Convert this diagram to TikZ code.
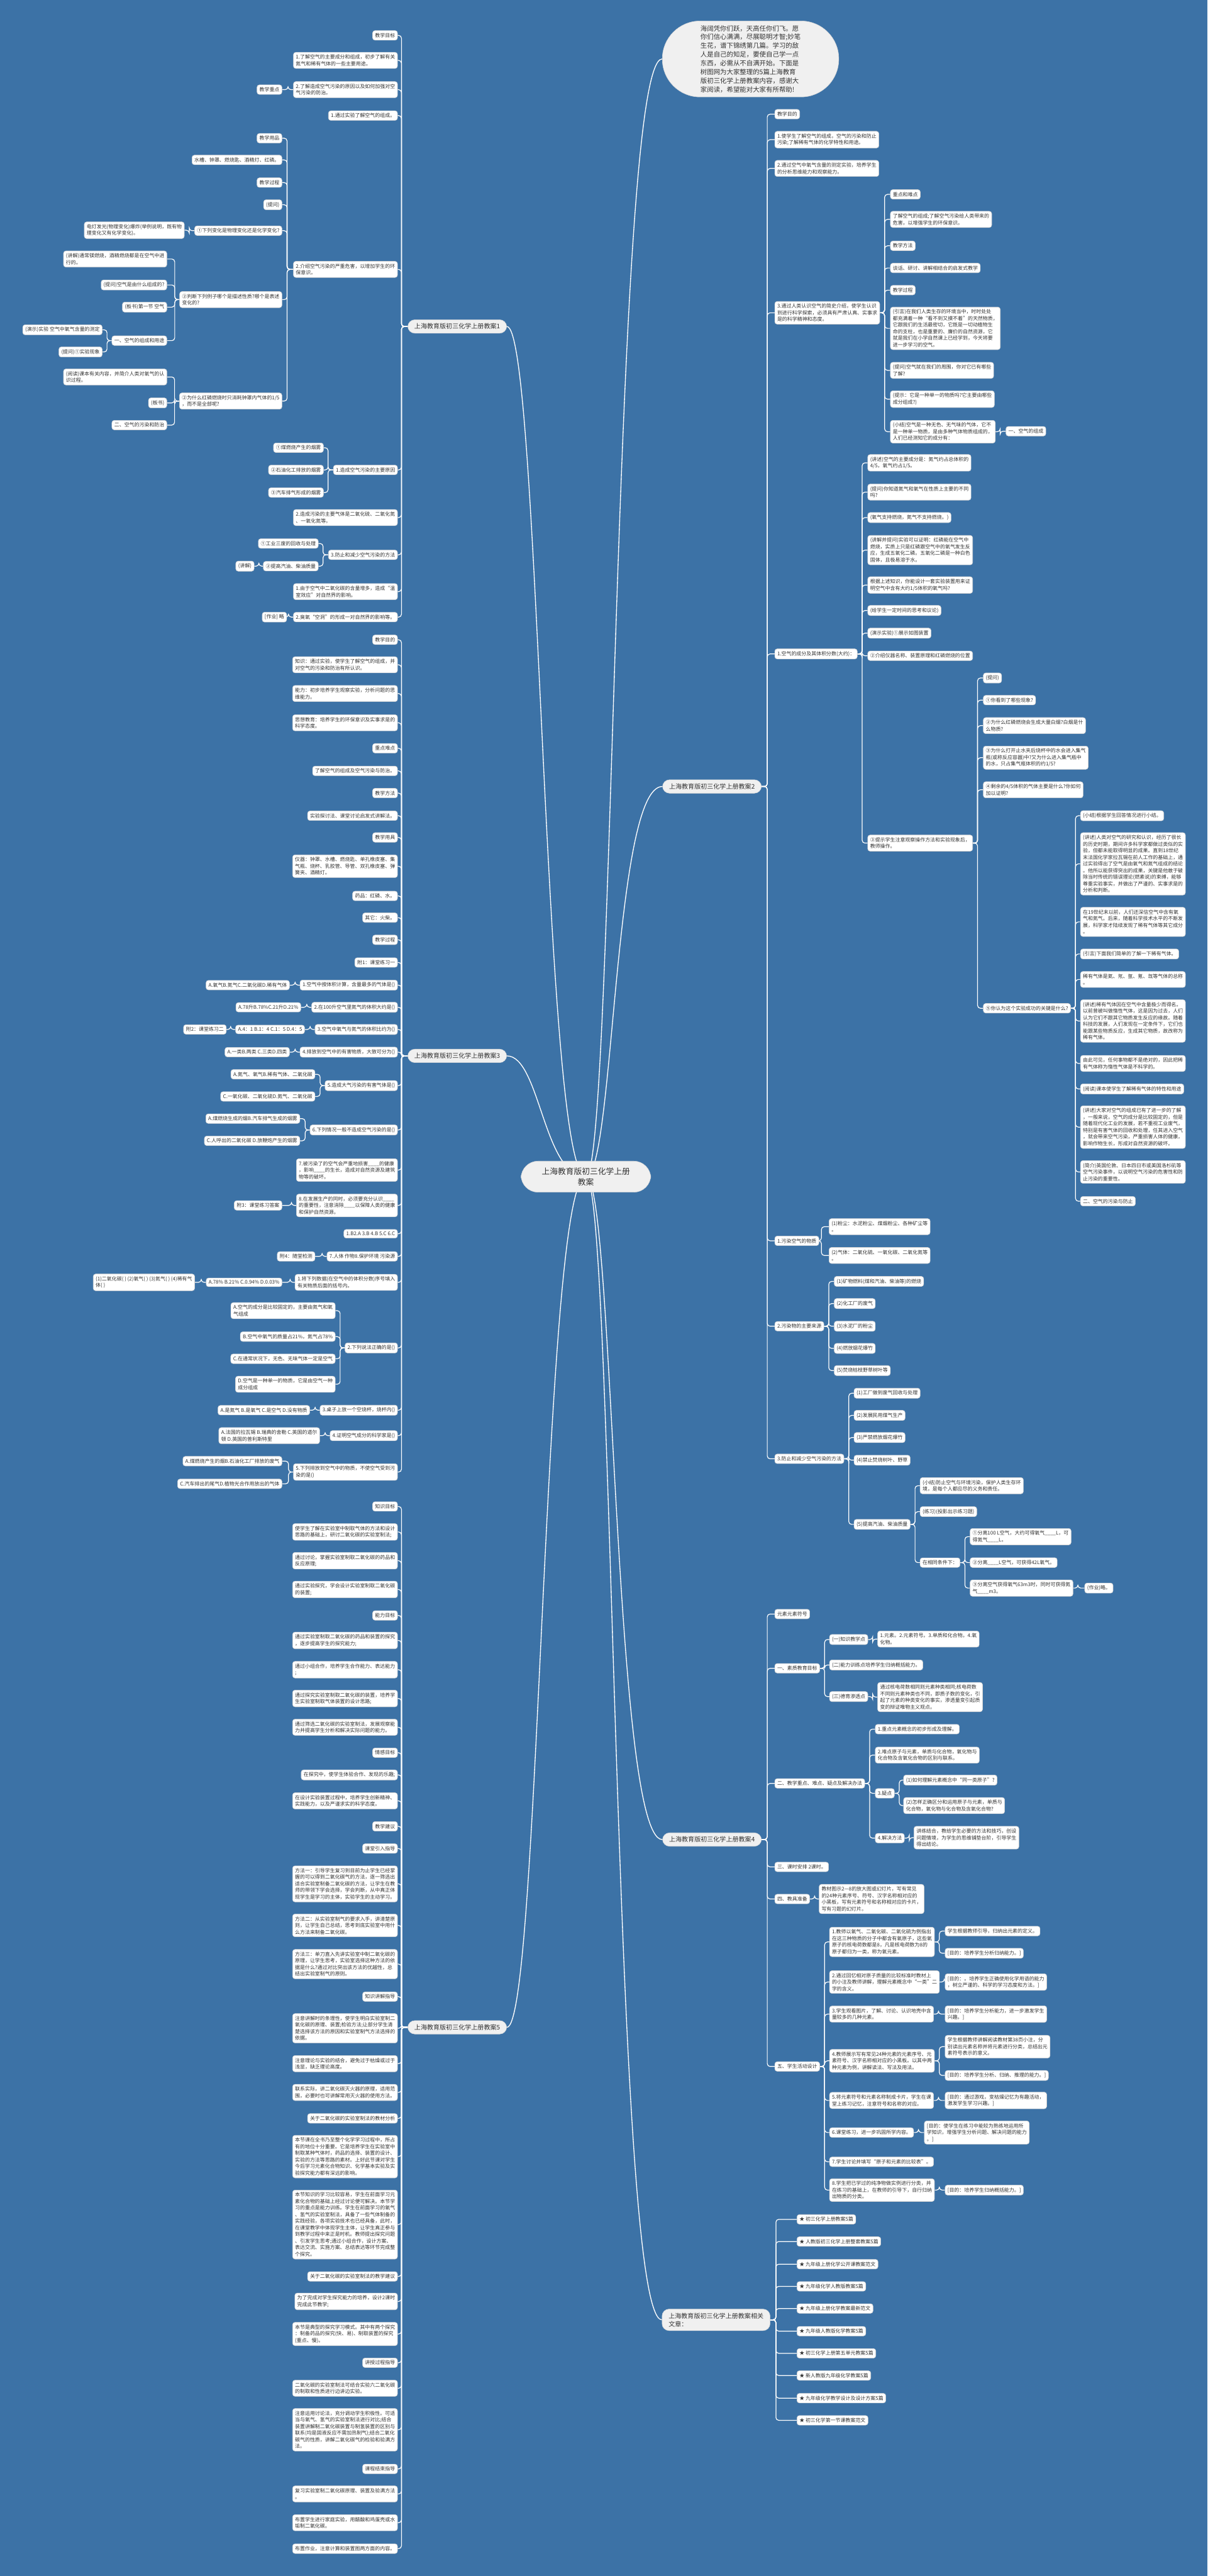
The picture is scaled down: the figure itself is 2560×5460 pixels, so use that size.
\documentclass[tikz,border=0pt]{standalone}
\usepackage{fontspec}
\newfontfamily\cjk{Noto Sans CJK SC}
\usetikzlibrary{backgrounds}
\definecolor{bgblue}{RGB}{60,114,166}
\definecolor{txt}{RGB}{51,51,51}
\definecolor{pale}{RGB}{240,240,240}
\newcommand\leaffont{\cjk\fontsize{5.3}{7}\selectfont}
\newcommand\branchfont{\cjk\fontsize{6.7}{8.6}\selectfont}
\newcommand\rootfont{\cjk\fontsize{8.5}{11}\selectfont}
\newcommand\bubblefont{\cjk\fontsize{6.95}{9.25}\selectfont}
\tikzset{
 leaf/.style={draw=black!18, fill=white, rounded corners=2.5pt, inner xsep=2.6pt, inner ysep=2.6pt, align=left, font=\leaffont, text=txt, line width=0.4pt},
 L/.style={leaf, anchor=east},
 R/.style={leaf, anchor=west},
 branchbox/.style={draw=black!15, fill=pale, rounded corners=7.5pt, inner xsep=7pt, inner ysep=4pt, font=\branchfont, text=txt, align=left},
 conn/.style={draw=white, line width=0.8pt, rounded corners=3pt},
 mainconn/.style={draw=white, line width=0.9pt},
}
\begin{document}
\begin{tikzpicture}[x=0.5pt,y=-0.5pt]
\useasboundingbox (0,0) rectangle (2560,5460);

% ---------- root, intro, branches ----------
\node[draw=black!15, fill=pale, rounded corners=18pt, inner xsep=22pt, inner ysep=7pt, font=\rootfont, text=txt, align=center] (root) at (1242,2494) {上海教育版初三化学上册\\教案};
\node[draw=black!15, fill=pale, rounded corners=40pt, minimum width=187pt, minimum height=80.5pt, font=\bubblefont, text=txt, align=left] (intro) at (1591,125) {海阔凭你们跃，天高任你们飞。愿\\你们信心满满，尽展聪明才智;妙笔\\生花，谱下锦绣第几篇。学习的敌\\人是自己的知足，要使自己学一点\\东西，必需从不自满开始。下面是\\树图网为大家整理的5篇上海教育\\版初三化学上册教案内容，感谢大\\家阅读，希望能对大家有所帮助!};
\node[branchbox, anchor=west] (b1) at (864,692) {上海教育版初三化学上册教案1};
\node[branchbox, anchor=west] (b3) at (864,2238) {上海教育版初三化学上册教案3};
\node[branchbox, anchor=west] (b5) at (864,4297) {上海教育版初三化学上册教案5};
\node[branchbox, anchor=west] (b2) at (1404,1667) {上海教育版初三化学上册教案2};
\node[branchbox, anchor=west] (b4) at (1404,3899) {上海教育版初三化学上册教案4};
\node[branchbox, anchor=west] (b6) at (1403,4917) {上海教育版初三化学上册教案相关\\文章：};

% ---------- branch 1 ----------
\node[L] (a1) at (843,75) {教学目标};
\node[L] (a2) at (843,128) {1.了解空气的主要成分和组成，初步了解有关\\氮气和稀有气体的一些主要用途。};
\node[L] (a3) at (843,190) {2.了解造成空气污染的原因以及如何加强对空\\气污染的防治。};
\node[L] (a3c) at (598,190) {教学重点};
\node[L] (a4) at (843,245) {1.通过实验了解空气的组成。};
\node[L] (a5) at (843,571) {2.介绍空气污染的严重危害，以增加学生的环\\保意识。};
\node[L] (a5a) at (598,293) {教学用品};
\node[L] (a5b) at (598,339) {水槽、钟罩、燃烧匙、酒精灯、红磷。};
\node[L] (a5c) at (598,387) {教学过程};
\node[L] (a5d) at (598,434) {(提问)};
\node[L] (a5e) at (598,489) {①下列变化是物理变化还是化学变化?};
\node[L] (a5e1) at (391,488) {电灯发光(物理变化)爆炸(举例说明，既有物\\理变化又有化学变化)。};
\node[L] (a5f) at (598,635) {②判断下列例子哪个是描述性质?哪个是表述\\变化的?};
\node[L] (a5f1) at (354,549) {(讲解)通常镁燃烧，酒精燃烧都是在空气中进\\行的。};
\node[L] (a5f2) at (354,604) {(提问)空气是由什么组成的?};
\node[L] (a5f3) at (354,651) {(板书)第一节 空气};
\node[L] (a5f4) at (354,722) {一、空气的组成和用途};
\node[L] (a5f4a) at (217,699) {(演示)实验 空气中氧气含量的测定};
\node[L] (a5f4b) at (217,746) {(提问)①实验现象};
\node[L] (a5g) at (598,850) {②为什么红磷燃烧时只消耗钟罩内气体的1/5\\，而不是全部呢?};
\node[L] (a5g1) at (354,799) {(阅读)课本有关内容，并简介人类对氧气的认\\识过程。};
\node[L] (a5g2) at (354,854) {(板书)};
\node[L] (a5g3) at (354,901) {二、空气的污染和防治};
\node[L] (a6) at (843,996) {1.造成空气污染的主要原因};
\node[L] (a6a) at (686,949) {①煤燃烧产生的烟雾};
\node[L] (a6b) at (686,996) {②石油化工排放的烟雾};
\node[L] (a6c) at (686,1044) {③汽车排气形成的烟雾};
\node[L] (a7) at (843,1097) {2.造成污染的主要气体是二氧化硫、二氧化氮\\、一氧化氮等。};
\node[L] (a8) at (843,1176) {3.防止和减少空气污染的方法};
\node[L] (a8a) at (675,1152) {①工业三废的回收与处理};
\node[L] (a8b) at (675,1200) {②提高汽油、柴油质量};
\node[L] (a8b1) at (539,1200) {(讲解)};
\node[L] (a9) at (843,1254) {1.由于空气中二氧化碳的含量增多，造成“温\\室效应”对自然界的影响。};
\node[L] (a10) at (843,1308) {2.臭氧“空洞”的形成一对自然界的影响等。};
\node[L] (a10a) at (608,1308) {[作业] 略};

% ---------- branch 3 ----------
\node[L] (c1) at (843,1356) {教学目的};
\node[L] (c2) at (843,1409) {知识：通过实验，使学生了解空气的组成，并\\对空气的污染和防治有所认识。};
\node[L] (c3) at (843,1470) {能力：初步培养学生观察实验，分析问题的思\\维能力。};
\node[L] (c4) at (843,1532) {思想教育：培养学生的环保意识及实事求是的\\科学态度。};
\node[L] (c5) at (843,1586) {重点难点};
\node[L] (c6) at (843,1634) {了解空气的组成及空气污染与防治。};
\node[L] (c7) at (843,1681) {教学方法};
\node[L] (c8) at (843,1729) {实验探讨法、课堂讨论启发式讲解法。};
\node[L] (c9) at (843,1775) {教学用具};
\node[L] (c10) at (843,1836) {仪器：钟罩、水槽、燃烧匙、单孔橡皮塞、集\\气瓶、烧杯、乳胶管、导管、双孔橡皮塞、弹\\簧夹、酒精灯。};
\node[L] (c11) at (843,1899) {药品：红磷、水。};
\node[L] (c12) at (843,1945) {其它：火柴。};
\node[L] (c13) at (843,1992) {教学过程};
\node[L] (c14) at (843,2040) {附1：课堂练习一};
\node[L] (c15) at (843,2088) {1.空气中按体积计算，含量最多的气体是()};
\node[L] (c15a) at (614,2088) {A.氧气B.氮气C.二氧化碳D.稀有气体};
\node[L] (c16) at (843,2135) {2.在100升空气里氮气的体积大约是()};
\node[L] (c16a) at (638,2135) {A.78升B.78\%C.21升D.21\%};
\node[L] (c17) at (843,2182) {3.空气中氧气与氮气的体积比约为()};
\node[L] (c17a) at (646,2182) {A.4：1 B.1：4 C.1：5 D.4：5};
\node[L] (c17b) at (480,2182) {附2：课堂练习二};
\node[L] (c18) at (843,2230) {4.排放到空气中的有害物质，大致可分为()};
\node[L] (c18a) at (614,2230) {A.一类B.两类 C.三类D.四类};
\node[L] (c19) at (843,2301) {5.造成大气污染的有害气体是()};
\node[L] (c19a) at (668,2277) {A.氮气、氧气B.稀有气体、二氧化碳};
\node[L] (c19b) at (668,2324) {C.一氧化碳、二氧化硫D.氮气、二氧化碳};
\node[L] (c20) at (843,2395) {6.下列情况一般不造成空气污染的是()};
\node[L] (c20a) at (636,2371) {A.煤燃烧生成的烟B.汽车排气生成的烟雾};
\node[L] (c20b) at (636,2418) {C.人呼出的二氧化碳 D.放鞭炮产生的烟雾};
\node[L] (c21) at (843,2480) {7.被污染了的空气会严重地损害\_\_\_\_的健康\\，影响\_\_\_\_的生长，造成对自然资源及建筑\\物等的破坏。};
\node[L] (c22) at (843,2555) {8.在发展生产的同时，必须要充分认识\_\_\_\_\\的重要性，注意消除\_\_\_\_以保障人类的健康\\和保护自然资源。};
\node[L] (c22a) at (598,2555) {附3：课堂练习答案};
\node[L] (c23) at (843,2615) {1.B2.A 3.B 4.B 5.C 6.C};
\node[L] (c24) at (843,2663) {7.人体 作物8.保护环境 污染源};
\node[L] (c24a) at (668,2663) {附4：随堂检测};
\node[L] (c25) at (843,2718) {1.将下列数据(在空气中的体积分数)序号填入\\有关物质后面的括号内。};
\node[L] (c25a) at (598,2718) {A.78\% B.21\% C.0.94\% D.0.03\%};
\node[L] (c25b) at (413,2718) {(1)二氧化碳( ) (2)氧气( ) (3)氮气( ) (4)稀有气\\体( )};
\node[L] (c26) at (843,2857) {2.下列说法正确的是()};
\node[L] (c26a) at (711,2778) {A.空气的成分是比较固定的，主要由氮气和氧\\气组成};
\node[L] (c26b) at (711,2833) {B.空气中氧气的质量占21\%，氮气占78\%};
\node[L] (c26c) at (711,2880) {C.在通常状况下，无色、无味气体一定是空气};
\node[L] (c26d) at (711,2934) {D.空气是一种单一的物质，它是由空气一种\\成分组成};
\node[L] (c27) at (843,2989) {3.桌子上放一个空烧杯，烧杯内()};
\node[L] (c27a) at (657,2989) {A.是氮气 B.是氧气 C.是空气 D.没有物质};
\node[L] (c28) at (843,3043) {4.证明空气成分的科学家是()};
\node[L] (c28a) at (678,3043) {A.法国的拉瓦锡 B.瑞典的舍勒 C.英国的道尔\\顿 D.英国的普利斯特里};
\node[L] (c29) at (843,3120) {5.下列排放到空气中的物质，不使空气受到污\\染的是()};
\node[L] (c29a) at (598,3097) {A.煤燃烧产生的烟B.石油化工厂排放的废气};
\node[L] (c29b) at (598,3145) {C.汽车排出的尾气D.植物光合作用放出的气体};

% ---------- branch 5 ----------
\node[L] (e1) at (843,3193) {知识目标};
\node[L] (e2) at (843,3247) {使学生了解在实验室中制取气体的方法和设计\\思路的基础上，研讨二氧化碳的实验室制法;};
\node[L] (e3) at (843,3308) {通过讨论，掌握实验室制取二氧化碳的药品和\\反应原理;};
\node[L] (e4) at (843,3369) {通过实验探究，学会设计实验室制取二氧化碳\\的装置;};
\node[L] (e5) at (843,3424) {能力目标};
\node[L] (e6) at (843,3477) {通过实验室制取二氧化碳的药品和装置的探究\\，逐步提高学生的探究能力;};
\node[L] (e7) at (843,3539) {通过小组合作，培养学生合作能力、表达能力\\;};
\node[L] (e8) at (843,3600) {通过探究实验室制取二氧化碳的装置，培养学\\生实验室制取气体装置的设计思路;};
\node[L] (e9) at (843,3661) {通过筛选二氧化碳的实验室制法，发展观察能\\力并提高学生分析和解决实际问题的能力。};
\node[L] (e10) at (843,3715) {情感目标};
\node[L] (e11) at (843,3762) {在探究中，使学生体验合作、发现的乐趣;};
\node[L] (e12) at (843,3817) {在设计实验装置过程中，培养学生创新精神、\\实践能力，以及严谨求实的科学态度。};
\node[L] (e13) at (843,3871) {教学建议};
\node[L] (e14) at (843,3918) {课堂引入指导};
\node[L] (e15) at (843,3993) {方法一：引导学生复习到目前为止学生已经掌\\握的可以得到二氧化碳气的方法，逐一筛选出\\适合实验室制备二氧化碳的方法，让学生在教\\师的带领下学会选择，学会判断，从中真正体\\现学生是学习的主体，实验学生的主动学习。};
\node[L] (e16) at (843,4081) {方法二：从实验室制气的要求入手，讲清楚原\\则，让学生自己总结，思考到底实验室中用什\\么方法来制备二氧化碳。};
\node[L] (e17) at (843,4163) {方法三：单刀直入先讲实验室中制二氧化碳的\\原理，让学生思考，实验室选择这种方法的依\\据是什么?通过对比突出该方法的优越性，总\\结出实验室制气的原则。};
\node[L] (e18) at (843,4232) {知识讲解指导};
\node[L] (e19) at (843,4299) {注意讲解时的条理性，使学生明白实验室制二\\氧化碳的原理、装置;检验方法;让部分学生清\\楚选择该方法的原因和实验室制气方法选择的\\依据。};
\node[L] (e20) at (843,4374) {注意理论与实验的结合，避免过于枯燥或过于\\浅显，缺乏理论高度。};
\node[L] (e21) at (843,4435) {联系实际，讲二氧化碳灭火器的原理，适用范\\围，必要时也可讲解常用灭火器的使用方法。};
\node[L] (e22) at (843,4490) {关于二氧化碳的实验室制法的教材分析};
\node[L] (e23) at (843,4571) {本节课在全书乃至整个化学学习过程中，所占\\有的地位十分重要。它是培养学生在实验室中\\制取某种气体时，药品的选择、装置的设计、\\实验的方法等思路的素材。上好此节课对学生\\今后学习元素化合物知识、化学基本实验及实\\验探究能力都有深远的影响。};
\node[L] (e24) at (843,4715) {本节知识的学习比较容易，学生在前面学习元\\素化合物的基础上经过讨论便可解决。本节学\\习的重点是能力训练。学生在前面学习的氧气\\、氢气的实验室制法，具备了一些气体制备的\\实践经验，各项实验技术也已经具备，此时，\\在课堂教学中体现学生主体，让学生真正参与\\到教学过程中来正是时机。教师提出探究问题\\、引发学生思考;通过小组合作，设计方案、\\表达交流、实施方案、总结表达等环节完成整\\个探究。};
\node[L] (e25) at (843,4825) {关于二氧化碳的实验室制法的教学建议};
\node[L] (e26) at (843,4878) {为了完成对学生探究能力的培养，设计2课时\\完成此节教学;};
\node[L] (e27) at (843,4947) {本节是典型的探究学习模式。其中有两个探究\\：制备药品的探究(快、易)、制取装置的探究\\(重点、慢)。};
\node[L] (e28) at (843,5008) {讲授过程指导};
\node[L] (e29) at (843,5062) {二氧化碳的实验室制法可结合实验六二氧化碳\\的制取和性质进行边讲边实验。};
\node[L] (e30) at (843,5150) {注意运用讨论法，充分调动学生积极性。可适\\当与氧气、氢气的实验室制法进行对比;结合\\装置讲解制二氧化碳装置与制氢装置的区别与\\联系(均是固液反应不需加热制气);结合二氧化\\碳气的性质，讲解二氧化碳气的检验和验满方\\法。};
\node[L] (e31) at (843,5233) {课程结束指导};
\node[L] (e32) at (843,5286) {复习实验室制二氧化碳原理、装置及验满方法\\。};
\node[L] (e33) at (843,5347) {布置学生进行家庭实验，用醋酸和鸡蛋壳或水\\垢制二氧化碳。};
\node[L] (e34) at (843,5402) {布置作业，注意计算和装置图两方面的内容。};

% ---------- branch 2 ----------
\node[R] (r1) at (1642,242) {教学目的};
\node[R] (r2) at (1642,296) {1.使学生了解空气的组成，空气的污染和防止\\污染;了解稀有气体的化学特性和用途。};
\node[R] (r3) at (1642,357) {2.通过空气中氧气含量的测定实验，培养学生\\的分析思维能力和观察能力。};
\node[R] (r4) at (1642,663) {3.通过人类认识空气的简史介绍，使学生认识\\到进行科学探索，必须具有严肃认真、实事求\\是的科学精神和态度。};
\node[R] (r4a) at (1887,412) {重点和难点};
\node[R] (r4b) at (1887,465) {了解空气的组成;了解空气污染给人类带来的\\危害，以增强学生的环保意识。};
\node[R] (r4c) at (1887,521) {教学方法};
\node[R] (r4d) at (1887,568) {谈话、研讨、讲解相结合的启发式教学};
\node[R] (r4e) at (1887,615) {教学过程};
\node[R] (r4f) at (1887,696) {(引言)在我们人类生存的环境当中，时时处处\\都充满着一种“看不到又摸不着”的天然物质，\\它跟我们的生活最密切，它既是一切动植物生\\命的支柱，也是重要的、廉价的自然资源，它\\就是我们在小学自然课上已经学到，今天将要\\进一步学习的空气。};
\node[R] (r4g) at (1887,785) {(提问)空气就在我们的周围，你对它已有哪些\\了解?};
\node[R] (r4h) at (1887,846) {(提示：它是一种单一的物质吗?它主要由哪些\\成分组成?)};
\node[R] (r4i) at (1887,915) {(小结)空气是一种无色、无气味的气体，它不\\是一种单一物质，是由多种气体物质组成的，\\人们已经测知它的成分有：};
\node[R] (r4i1) at (2132,914) {一、空气的组成};
\node[R] (r5) at (1642,1386) {1.空气的成分及其体积分数(大约)：};
\node[R] (r5a) at (1839,981) {(讲述)空气的主要成分是：氮气约占总体积的\\4/5，氧气约占1/5。};
\node[R] (r5b) at (1839,1043) {(提问)你知道氮气和氧气在性质上主要的不同\\吗?};
\node[R] (r5c) at (1839,1097) {(氧气支持燃烧，氮气不支持燃烧。)};
\node[R] (r5d) at (1839,1166) {(讲解并提问)实验可以证明：红磷能在空气中\\燃烧，实质上只是红磷跟空气中的氧气发生反\\应，生成五氧化二磷。五氧化二磷是一种白色\\固体，且极易溶于水。};
\node[R] (r5e) at (1839,1240) {根据上述知识，你能设计一套实验装置用来证\\明空气中含有大约1/5体积的氧气吗?};
\node[R] (r5f) at (1839,1294) {(给学生一定时间的思考和议论)};
\node[R] (r5g) at (1839,1342) {(演示实验)①展示如图装置};
\node[R] (r5h) at (1839,1390) {②介绍仪器名称、装置原理和红磷燃烧的位置};
\node[R] (r5i) at (1839,1787) {③提示学生注意观察操作方法和实验现象后，\\教师操作。};
\node[R] (r5i1) at (2084,1437) {(提问)};
\node[R] (r5i2) at (2084,1484) {①你看到了哪些现象?};
\node[R] (r5i3) at (2084,1538) {②为什么红磷燃烧会生成大量白烟?白烟是什\\么物质?};
\node[R] (r5i4) at (2084,1606) {③为什么打开止水夹后烧杯中的水会进入集气\\瓶(或称反应容器)中?又为什么进入集气瓶中\\的水，只占集气瓶体积的约1/5?};
\node[R] (r5i5) at (2084,1674) {④剩余的4/5体积的气体主要是什么?你如何\\加以证明?};
\node[R] (r5i6) at (2084,2137) {⑤你认为这个实验成功的关键是什么?};
\node[R] (s1) at (2290,1729) {(小结)根据学生回答情况进行小结。};
\node[R] (s2) at (2290,1831) {(讲述)人类对空气的研究和认识，经历了很长\\的历史时期，期间许多科学家都做过类似的实\\验，但都未能取得明显的成果。直到18世纪\\末法国化学家拉瓦锡在前人工作的基础上，通\\过实验得出了空气是由氧气和氮气组成的结论\\。他所以能获得突出的成果，关键是他敢于破\\除当时传统的错误理论(燃素说)的束缚，能够\\尊重实验事实，并做出了严谨的、实事求是的\\分析和判断。};
\node[R] (s3) at (2290,1954) {在19世纪末以前，人们还深信空气中含有氧\\气和氮气。后来，随着科学技术水平的不断发\\展，科学家才陆续发现了稀有气体等其它成分\\。};
\node[R] (s4) at (2290,2022) {(引言)下面我们简单的了解一下稀有气体。};
\node[R] (s5) at (2290,2076) {稀有气体是氦、氖、氩、氪、氙等气体的总称\\。};
\node[R] (s6) at (2290,2164) {(讲述)稀有气体因在空气中含量极少而得名。\\以前曾被叫做惰性气体，这是因为过去，人们\\认为它们不跟其它物质发生反应的缘故。随着\\科技的发展，人们发现在一定条件下，它们也\\能跟某些物质反应，生成其它物质，故改称为\\稀有气体。};
\node[R] (s7) at (2290,2254) {由此可见，任何事物都不是绝对的，因此把稀\\有气体称为惰性气体是不科学的。};
\node[R] (s8) at (2290,2308) {(阅读)课本使学生了解稀有气体的特性和用途};
\node[R] (s9) at (2290,2389) {(讲述)大家对空气的组成已有了进一步的了解\\，一般来说，空气的成分是比较固定的，但是\\随着现代化工业的发展，若不重视工业废气，\\特别是有害气体的回收和处理，任其进入空气\\，就会带来空气污染，严重损害人体的健康，\\影响作物生长，形成对自然资源的破坏。};
\node[R] (s10) at (2290,2484) {(简介)英国伦敦、日本四日市或美国洛杉矶等\\空气污染事件，以说明空气污染的危害性和防\\止污染的重要性。};
\node[R] (s11) at (2290,2546) {二、空气的污染与防止};
\node[R] (r6) at (1642,2630) {1.污染空气的物质};
\node[R] (r6a) at (1757,2600) {(1)粉尘：水泥粉尘、煤烟粉尘、各种矿尘等\\。};
\node[R] (r6b) at (1757,2661) {(2)气体：二氧化硫、一氧化碳、二氧化氮等\\。};
\node[R] (r7) at (1642,2811) {2.污染物的主要来源};
\node[R] (r7a) at (1768,2716) {(1)矿物燃料(煤和汽油、柴油等)的燃烧};
\node[R] (r7b) at (1768,2763) {(2)化工厂的废气};
\node[R] (r7c) at (1768,2811) {(3)水泥厂的粉尘};
\node[R] (r7d) at (1768,2858) {(4)燃放烟花爆竹};
\node[R] (r7e) at (1768,2905) {(5)焚烧枯枝野草树叶等};
\node[R] (r8) at (1642,3092) {3.防止和减少空气污染的方法};
\node[R] (r8a) at (1810,2953) {(1)工厂做到废气回收与处理};
\node[R] (r8b) at (1810,3000) {(2)发展民用煤气生产};
\node[R] (r8c) at (1810,3047) {(3)严禁燃放烟花爆竹};
\node[R] (r8d) at (1810,3095) {(4)禁止焚烧树叶、野草};
\node[R] (r8e) at (1810,3231) {(5)提高汽油、柴油质量};
\node[R] (r8e1) at (1950,3149) {(小结)防止空气与环境污染，保护人类生存环\\境，是每个人都应尽的义务和责任。};
\node[R] (r8e2) at (1950,3204) {(练习)(投影出示练习题)};
\node[R] (r8e3) at (1950,3312) {在相同条件下：};
\node[R] (t1) at (2056,3257) {①分离100 L空气，大约可得氧气\_\_\_\_L，可\\得氮气\_\_\_\_L。};
\node[R] (t2) at (2056,3312) {②分离\_\_\_\_L空气，可获得42L氧气。};
\node[R] (t3) at (2056,3366) {③分离空气获得氧气63m3时，同时可获得氮\\气\_\_\_\_m3。};
\node[R] (t3a) at (2299,3366) {(作业)略。};

% ---------- branch 4 ----------
\node[R] (f1) at (1642,3421) {元素元素符号};
\node[R] (f2) at (1642,3536) {一、素质教育目标};
\node[R] (f2a) at (1758,3475) {(一)知识教学点};
\node[R] (f2a1) at (1860,3474) {1.元素。2.元素符号。3.单质和化合物。4.氧\\化物。};
\node[R] (f2b) at (1758,3529) {(二)能力训练点培养学生归纳概括能力。};
\node[R] (f2c) at (1758,3596) {(三)德育渗透点};
\node[R] (f2c1) at (1860,3597) {通过核电荷数相同则元素种类相同;核电荷数\\不同则元素种类也不同，即质子数的变化，引\\起了元素的种类变化的事实，渗透量变引起质\\变的辩证唯物主义观点。};
\node[R] (f3) at (1642,3780) {二、教学重点、难点、疑点及解决办法};
\node[R] (f3a) at (1855,3665) {1.重点元素概念的初步形成及理解。};
\node[R] (f3b) at (1855,3720) {2.难点原子与元素，单质与化合物，氧化物与\\化合物及含氧化合物的区别与联系。};
\node[R] (f3c) at (1855,3801) {3.疑点};
\node[R] (f3c1) at (1915,3773) {(1)如何理解元素概念中“同一类原子”?};
\node[R] (f3c2) at (1915,3827) {(2)怎样正确区分和运用原子与元素，单质与\\化合物，氧化物与化合物及含氧化合物?};
\node[R] (f3d) at (1855,3896) {4.解决方法};
\node[R] (f3d1) at (1937,3895) {讲练结合，教给学生必要的方法和技巧，创设\\问题情境，为学生的思维铺垫台阶，引导学生\\得出结论。};
\node[R] (f4) at (1642,3957) {三、课时安排 2课时。};
\node[R] (f5) at (1642,4025) {四、教具准备};
\node[R] (f5a) at (1736,4025) {教材图示2—8的放大图或幻灯片，写有常见\\的24种元素序号、符号、汉字名称相对应的\\小黑板，写有元素符号和名称相对应的卡片，\\写有习题的幻灯片。};
\node[R] (f6) at (1642,4380) {五、学生活动设计};
\node[R] (g1) at (1758,4116) {1.教师以氧气、二氧化碳、二氧化硫为例指出\\在这三种物质的分子中都含有氧原子，这些氧\\原子的核电荷数都是8，凡是核电荷数为8的\\原子都归为一类，称为氧元素。};
\node[R] (g1a) at (2003,4093) {学生根据教师引导，归纳出元素的定义。};
\node[R] (g1b) at (2003,4140) {[目的：培养学生分析归纳能力。]};
\node[R] (g2) at (1758,4201) {2.通过回忆相对原子质量的比较标准时教材上\\的小注及教师讲解，理解元素概念中“一类”二\\字的含义。};
\node[R] (g2a) at (2003,4201) {[目的：。培养学生正确使用化学用语的能力\\，树立严谨的、科学的学习态度和方法。]};
\node[R] (g3) at (1758,4269) {3.学生观看图片，了解、讨论、认识地壳中含\\量较多的几种元素。};
\node[R] (g3a) at (2003,4269) {[目的：培养学生分析能力，进一步激发学生\\兴趣。]};
\node[R] (g4) at (1758,4368) {4.教师展示写有常见24种元素的元素序号、元\\素符号、汉字名称相对应的小黑板。以其中两\\种元素为例，讲解读法、写法及用法。};
\node[R] (g4a) at (2003,4338) {学生根据教师讲解阅读教材第38页小注，分\\别读出元素名称并将元素进行分类，总结出元\\素符号表示的意义。};
\node[R] (g4b) at (2003,4399) {[目的：培养学生分析、归纳、推理的能力。]};
\node[R] (g5) at (1758,4452) {5.将元素符号和元素名称制成卡片，学生在课\\堂上练习记忆，注意符号和名称的对应。};
\node[R] (g5a) at (2003,4452) {[目的：通过游戏，变枯燥记忆为有趣活动，\\激发学生学习兴趣。]};
\node[R] (g6) at (1758,4520) {6.课堂练习，进一步巩固所学内容。};
\node[R] (g6a) at (1959,4520) {[目的：使学生在练习中能较为熟练地运用所\\学知识，增强学生分析问题、解决问题的能力\\。]};
\node[R] (g7) at (1758,4582) {7.学生讨论并填写“原子和元素的比较表”。};
\node[R] (g8) at (1758,4642) {8.学生把已学过的纯净物做实例进行分类，并\\在练习的基础上，在教师的引导下，自行归纳\\出物质的分类。};
\node[R] (g8a) at (2003,4642) {[目的：培养学生归纳概括能力。]};

% ---------- related ----------
\node[R] (h1) at (1689,4704) {★ 初三化学上册教案5篇};
\node[R] (h2) at (1689,4751) {★ 人教版初三化学上册整套教案5篇};
\node[R] (h3) at (1689,4799) {★ 九年级上册化学公开课教案范文};
\node[R] (h4) at (1689,4846) {★ 九年级化学人教版教案5篇};
\node[R] (h5) at (1689,4893) {★ 九年级上册化学教案最新范文};
\node[R] (h6) at (1689,4941) {★ 九年级人教版化学教案5篇};
\node[R] (h7) at (1689,4988) {★ 初三化学上册第五单元教案5篇};
\node[R] (h8) at (1689,5035) {★ 新人教版九年级化学教案5篇};
\node[R] (h9) at (1689,5083) {★ 九年级化学教学设计及设计方案5篇};
\node[R] (h10) at (1689,5130) {★ 初三化学第一节课教案范文};

% ---------- connectors ----------
\begin{scope}[on background layer]
\fill[bgblue] (0,0) rectangle (2560,5460);
% main curves
\draw[mainconn] (root.center) .. controls +(60,0) and +(-104,0) .. (intro.west);
\draw[mainconn] (root.center) .. controls +(60,0) and +(-104,0) .. (b2.west);
\draw[mainconn] (root.center) .. controls +(60,0) and +(-104,0) .. (b4.west);
\draw[mainconn] (root.center) .. controls +(60,0) and +(-104,0) .. (b6.west);
\draw[mainconn] (root.center) .. controls +(-90,0) and +(70,0) .. (b1.east);
\draw[mainconn] (root.center) .. controls +(-90,0) and +(70,0) .. (b3.east);
\draw[mainconn] (root.center) .. controls +(-90,0) and +(70,0) .. (b5.east);
% left side
\foreach \c in {a1,a2,a3,a4,a5,a6,a7,a8,a9,a10} \draw[conn] (b1.west) -- ++(-13,0) |- (\c.east);
\draw[conn] (a3.west) -- ++(-11,0) |- (a3c.east);
\foreach \c in {a5a,a5b,a5c,a5d,a5e,a5f,a5g} \draw[conn] (a5.west) -- ++(-13,0) |- (\c.east);
\draw[conn] (a5e.west) -- ++(-11,0) |- (a5e1.east);
\foreach \c in {a5f1,a5f2,a5f3,a5f4} \draw[conn] (a5f.west) -- ++(-10,0) |- (\c.east);
\foreach \c in {a5f4a,a5f4b} \draw[conn] (a5f4.west) -- ++(-10,0) |- (\c.east);
\foreach \c in {a5g1,a5g2,a5g3} \draw[conn] (a5g.west) -- ++(-10,0) |- (\c.east);
\foreach \c in {a6a,a6b,a6c} \draw[conn] (a6.west) -- ++(-11,0) |- (\c.east);
\foreach \c in {a8a,a8b} \draw[conn] (a8.west) -- ++(-11,0) |- (\c.east);
\draw[conn] (a8b.west) -- ++(-9,0) |- (a8b1.east);
\draw[conn] (a10.west) -- ++(-10,0) |- (a10a.east);
\foreach \c in {c1,c2,c3,c4,c5,c6,c7,c8,c9,c10,c11,c12,c13,c14,c15,c16,c17,c18,c19,c20,c21,c22,c23,c24,c25,c26,c27,c28,c29} \draw[conn] (b3.west) -- ++(-13,0) |- (\c.east);
\draw[conn] (c15.west) -- ++(-10,0) |- (c15a.east);
\draw[conn] (c16.west) -- ++(-10,0) |- (c16a.east);
\draw[conn] (c17.west) -- ++(-10,0) |- (c17a.east);
\draw[conn] (c17a.west) -- ++(-10,0) |- (c17b.east);
\draw[conn] (c18.west) -- ++(-10,0) |- (c18a.east);
\foreach \c in {c19a,c19b} \draw[conn] (c19.west) -- ++(-10,0) |- (\c.east);
\foreach \c in {c20a,c20b} \draw[conn] (c20.west) -- ++(-10,0) |- (\c.east);
\draw[conn] (c22.west) -- ++(-10,0) |- (c22a.east);
\draw[conn] (c24.west) -- ++(-10,0) |- (c24a.east);
\draw[conn] (c25.west) -- ++(-10,0) |- (c25a.east);
\draw[conn] (c25a.west) -- ++(-10,0) |- (c25b.east);
\foreach \c in {c26a,c26b,c26c,c26d} \draw[conn] (c26.west) -- ++(-10,0) |- (\c.east);
\draw[conn] (c27.west) -- ++(-10,0) |- (c27a.east);
\draw[conn] (c28.west) -- ++(-10,0) |- (c28a.east);
\foreach \c in {c29a,c29b} \draw[conn] (c29.west) -- ++(-10,0) |- (\c.east);
\foreach \c in {e1,e2,e3,e4,e5,e6,e7,e8,e9,e10,e11,e12,e13,e14,e15,e16,e17,e18,e19,e20,e21,e22,e23,e24,e25,e26,e27,e28,e29,e30,e31,e32,e33,e34} \draw[conn] (b5.west) -- ++(-13,0) |- (\c.east);
% right side
\foreach \c in {r1,r2,r3,r4,r5,r6,r7,r8} \draw[conn] (b2.east) -- ++(12,0) |- (\c.west);
\foreach \c in {r4a,r4b,r4c,r4d,r4e,r4f,r4g,r4h,r4i} \draw[conn] (r4.east) -- ++(10,0) |- (\c.west);
\draw[conn] (r4i.east) -- ++(10,0) |- (r4i1.west);
\foreach \c in {r5a,r5b,r5c,r5d,r5e,r5f,r5g,r5h,r5i} \draw[conn] (r5.east) -- ++(10,0) |- (\c.west);
\foreach \c in {r5i1,r5i2,r5i3,r5i4,r5i5,r5i6} \draw[conn] (r5i.east) -- ++(10,0) |- (\c.west);
\foreach \c in {s1,s2,s3,s4,s5,s6,s7,s8,s9,s10,s11} \draw[conn] (r5i6.east) -- ++(10,0) |- (\c.west);
\foreach \c in {r6a,r6b} \draw[conn] (r6.east) -- ++(5,0) |- (\c.west);
\foreach \c in {r7a,r7b,r7c,r7d,r7e} \draw[conn] (r7.east) -- ++(10,0) |- (\c.west);
\foreach \c in {r8a,r8b,r8c,r8d,r8e} \draw[conn] (r8.east) -- ++(10,0) |- (\c.west);
\foreach \c in {r8e1,r8e2,r8e3} \draw[conn] (r8e.east) -- ++(10,0) |- (\c.west);
\foreach \c in {t1,t2,t3} \draw[conn] (r8e3.east) -- ++(10,0) |- (\c.west);
\draw[conn] (t3.east) -- ++(10,0) |- (t3a.west);
\foreach \c in {f1,f2,f3,f4,f5,f6} \draw[conn] (b4.east) -- ++(12,0) |- (\c.west);
\foreach \c in {f2a,f2b,f2c} \draw[conn] (f2.east) -- ++(10,0) |- (\c.west);
\draw[conn] (f2a.east) -- ++(10,0) |- (f2a1.west);
\draw[conn] (f2c.east) -- ++(10,0) |- (f2c1.west);
\foreach \c in {f3a,f3b,f3c,f3d} \draw[conn] (f3.east) -- ++(10,0) |- (\c.west);
\foreach \c in {f3c1,f3c2} \draw[conn] (f3c.east) -- ++(10,0) |- (\c.west);
\draw[conn] (f3d.east) -- ++(10,0) |- (f3d1.west);
\draw[conn] (f5.east) -- ++(10,0) |- (f5a.west);
\foreach \c in {g1,g2,g3,g4,g5,g6,g7,g8} \draw[conn] (f6.east) -- ++(10,0) |- (\c.west);
\foreach \c in {g1a,g1b} \draw[conn] (g1.east) -- ++(10,0) |- (\c.west);
\draw[conn] (g2.east) -- ++(10,0) |- (g2a.west);
\draw[conn] (g3.east) -- ++(10,0) |- (g3a.west);
\foreach \c in {g4a,g4b} \draw[conn] (g4.east) -- ++(10,0) |- (\c.west);
\draw[conn] (g5.east) -- ++(10,0) |- (g5a.west);
\draw[conn] (g6.east) -- ++(10,0) |- (g6a.west);
\draw[conn] (g8.east) -- ++(10,0) |- (g8a.west);
\foreach \c in {h1,h2,h3,h4,h5,h6,h7,h8,h9,h10} \draw[conn] (b6.east) -- ++(12,0) |- (\c.west);
\end{scope}
\end{tikzpicture}
\end{document}
